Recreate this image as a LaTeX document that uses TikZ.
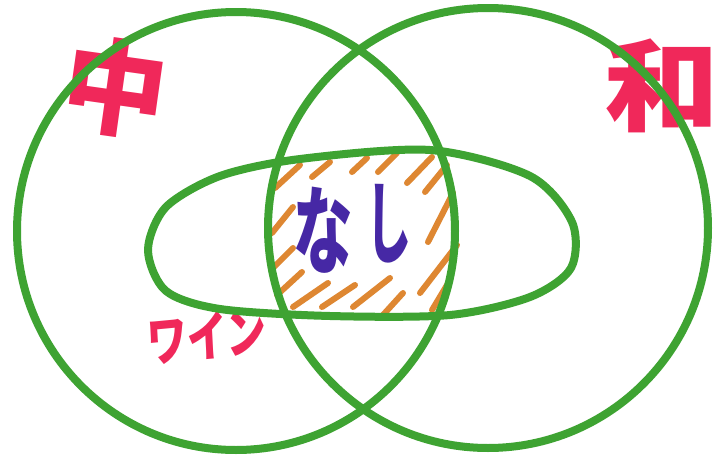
\documentclass[tikz,border=0pt]{standalone}
\usepackage{fontspec}
\newfontfamily\cjk{Noto Sans CJK JP}
\definecolor{venngreen}{RGB}{62,163,50}
\definecolor{hatchorange}{RGB}{222,135,50}
\definecolor{penpurple}{RGB}{70,40,165}
\definecolor{penpink}{RGB}{240,40,90}
\tikzset{
  venn/.style={draw=venngreen, line width=8pt, line cap=round, line join=round},
  hatchline/.style={draw=hatchorange, line width=6pt, line cap=round},
  pinklabel/.style={text=penpink, inner sep=0pt, font=\cjk\bfseries},
  purplelabel/.style={text=penpurple, inner sep=0pt, font=\cjk\bfseries},
}
\begin{document}
\begin{tikzpicture}[x=1pt,y=-1pt]
\useasboundingbox (0,0) rectangle (721,461);
\fill[white] (0,0) rectangle (721,461);
% hatching
\foreach \a/\b in {
  {(275,188)}/{(300,165)}, {(312,177)}/{(330,162)}, {(352,172)}/{(367,158)},
  {(378,172)}/{(397,153)}, {(407,183)}/{(432,157)}, {(425,192)}/{(447,165)},
  {(272,233)}/{(293,207)}, {(428,242)}/{(453,193)}, {(273,268)}/{(293,248)},
  {(277,295)}/{(302,272)}, {(293,307)}/{(328,283)}, {(322,307)}/{(355,285)},
  {(353,307)}/{(390,278)}, {(383,315)}/{(403,293)}, {(420,293)}/{(457,245)},
  {(432,310)}/{(450,280)}}
  \draw[hatchline] \a -- \b;
% labels
\node[purplelabel, font=\cjk\bfseries\fontsize{96}{96}\selectfont, xscale=0.62] (na) at (323,230) {な};
\node[purplelabel, font=\cjk\bfseries\fontsize{90}{90}\selectfont, xscale=0.5] (shi) at (389,224) {し};
\node[pinklabel, font=\cjk\bfseries\fontsize{104}{104}\selectfont, rotate=-8] (naka) at (115,88) {中};
\node[pinklabel, font=\cjk\bfseries\fontsize{100}{100}\selectfont, xscale=1.15] (wa) at (662,86) {和};
\node[pinklabel, font=\cjk\bfseries\fontsize{54}{54}\selectfont, xscale=0.74, rotate=4] (wine) at (207,336) {ワイン};
% circles and ellipse
\draw[venn] (236,231) circle[radius=219pt];
\draw[venn] (488,228) circle[radius=220pt];
\draw[venn] plot[smooth cycle] coordinates {
  (148,250) (166,207) (220,176) (300,159) (430,150) (530,176) (572,222)
  (571,268) (530,297) (450,315) (330,316) (220,309) (166,291)};
\end{tikzpicture}
\end{document}
